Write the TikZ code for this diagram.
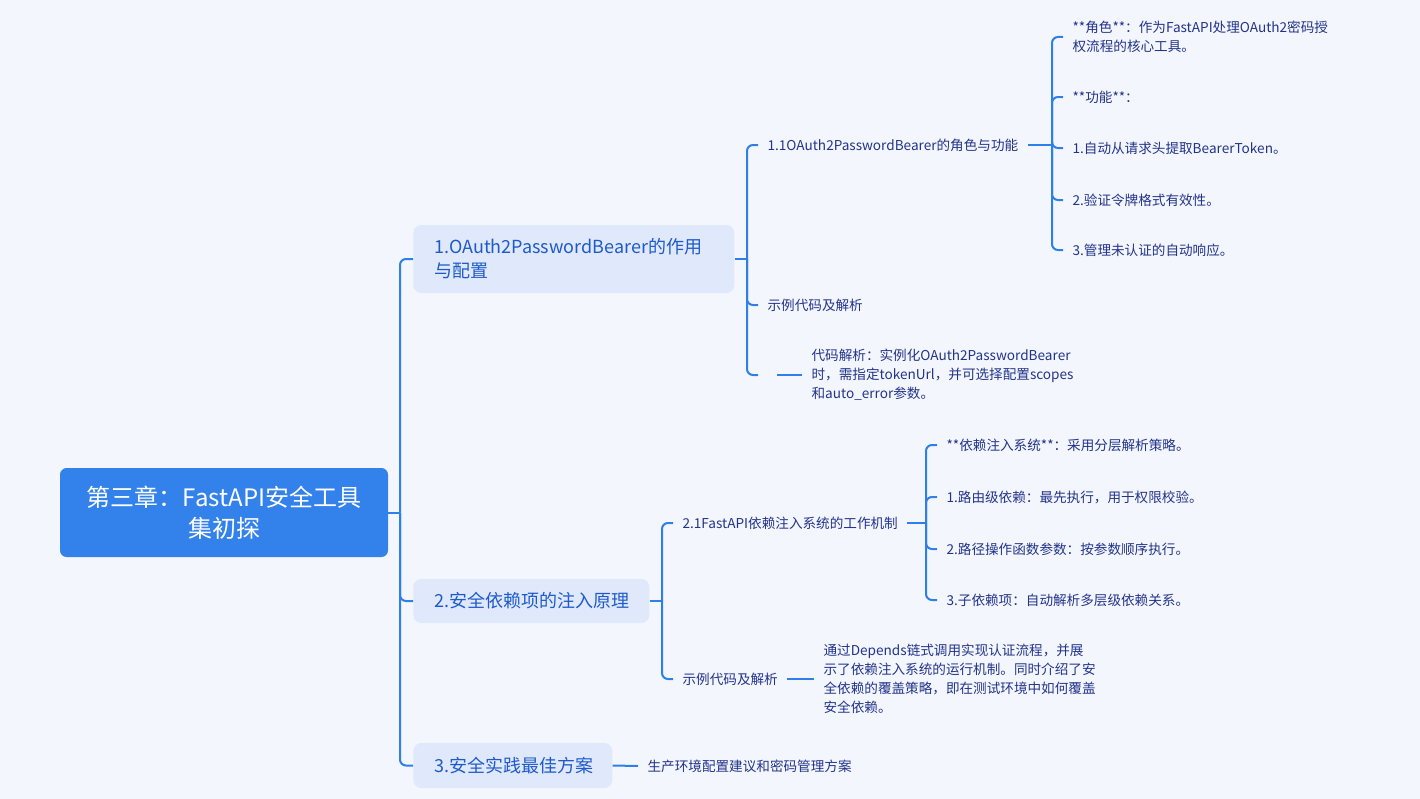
\documentclass[tikz,border=0pt]{standalone}
\usepackage{fontspec}
\setmainfont{Noto Sans CJK SC}
\definecolor{bgc}{HTML}{F4F6FD}
\definecolor{rootc}{HTML}{3381EA}
\definecolor{boxc}{HTML}{E0E8FC}
\definecolor{linec}{HTML}{2F7FEA}
\definecolor{l1c}{HTML}{1E5BC9}
\definecolor{leafc}{HTML}{22348A}
\begin{document}
\begin{tikzpicture}[x=0.75pt,y=-0.75pt,
  conn/.style={draw=linec,line width=1.5pt,rounded corners=4.5pt},
  leaf/.style={anchor=west,text=leafc,font=\fontsize{10.2pt}{14.25pt}\selectfont,align=left,inner xsep=7pt,inner ysep=1pt},
  l1box/.style={anchor=west,fill=boxc,rounded corners=6pt,inner sep=0pt},
  l1text/.style={anchor=west,text=l1c,font=\fontsize{13.5pt}{18pt}\selectfont,align=left,inner sep=0pt}]
\fill[bgc] (0,0) rectangle (1420,799);
\useasboundingbox (0,0) rectangle (1420,799);

% root
\node[fill=rootc,rounded corners=5pt,minimum width=246pt,minimum height=66.75pt,text=white,
  font=\fontsize{18pt}{23.25pt}\selectfont,align=center,inner sep=0pt] (root) at (224,512.5)
  {第三章：FastAPI安全工具\\集初探};

% level 1
\node[l1box,minimum width=240.75pt,minimum height=51pt] (b1) at (413,259) {};
\node[l1text] (b1t) at (434,259) {1.OAuth2PasswordBearer的作用\\与配置};
\node[l1box,minimum width=177pt,minimum height=33pt] (b2) at (413,601) {};
\node[l1text] (b2t) at (434,601) {2.安全依赖项的注入原理};
\node[l1box,minimum width=149.25pt,minimum height=33.75pt] (b3) at (413,765.5) {};
\node[l1text] (b3t) at (434,765.5) {3.安全实践最佳方案};

% branch 1
\node[leaf] (n11) at (758,145) {1.1OAuth2PasswordBearer的角色与功能};
\node[leaf] (n1ex) at (758,305) {示例代码及解析};
\node[leaf,minimum width=13.5pt] (n1e) at (758,375) {};
\node[leaf] (n1code) at (802,375) {代码解析：实例化OAuth2PasswordBearer\\时，需指定tokenUrl，并可选择配置scopes\\和auto\_error参数。};

\node[leaf] (r1) at (1063,37) {**角色**：作为FastAPI处理OAuth2密码授\\权流程的核心工具。};
\node[leaf] (r2) at (1063,97) {**功能**：};
\node[leaf] (r3) at (1063,148) {1.自动从请求头提取BearerToken。};
\node[leaf] (r4) at (1063,200) {2.验证令牌格式有效性。};
\node[leaf] (r5) at (1063,250) {3.管理未认证的自动响应。};

% branch 2
\node[leaf] (n21) at (673,523) {2.1FastAPI依赖注入系统的工作机制};
\node[leaf] (n2ex) at (673,679) {示例代码及解析};
\node[leaf] (n2code) at (814,679) {通过Depends链式调用实现认证流程，并展\\示了依赖注入系统的运行机制。同时介绍了安\\全依赖的覆盖策略，即在测试环境中如何覆盖\\安全依赖。};

\node[leaf] (s1) at (937,445) {**依赖注入系统**：采用分层解析策略。};
\node[leaf] (s2) at (937,497) {1.路由级依赖：最先执行，用于权限校验。};
\node[leaf] (s3) at (937,549) {2.路径操作函数参数：按参数顺序执行。};
\node[leaf] (s4) at (937,600) {3.子依赖项：自动解析多层级依赖关系。};

% branch 3
\node[leaf] (n3) at (638,766) {生产环境配置建议和密码管理方案};

% connectors root
\coordinate (j0) at (400,512.5);
\draw[conn] (root.east) -- (j0);
\draw[conn] (j0) |- (b1.west);
\draw[conn] (j0) |- (b2.west);
\draw[conn] (j0) |- (b3.west);

% connectors b1
\coordinate (j1) at (747,259);
\draw[conn] (b1.east) -- (j1);
\draw[conn] (j1) |- (n11.west);
\draw[conn] (j1) |- (n1ex.west);
\draw[conn] (j1) |- (n1e.west);
\draw[conn] (n1e.east) -- (n1code.west);

\coordinate (j11) at (1052,145);
\draw[conn] (n11.east) -- (j11);
\draw[conn] (j11) |- (r1.west);
\draw[conn] (j11) |- (r2.west);
\draw[conn] (j11) |- (r3.west);
\draw[conn] (j11) |- (r4.west);
\draw[conn] (j11) |- (r5.west);

% connectors b2
\coordinate (j2) at (662,601);
\draw[conn] (b2.east) -- (j2);
\draw[conn] (j2) |- (n21.west);
\draw[conn] (j2) |- (n2ex.west);
\draw[conn] (n2ex.east) -- (n2code.west);

\coordinate (j21) at (926,523);
\draw[conn] (n21.east) -- (j21);
\draw[conn] (j21) |- (s1.west);
\draw[conn] (j21) |- (s2.west);
\draw[conn] (j21) |- (s3.west);
\draw[conn] (j21) |- (s4.west);

% connectors b3
\draw[conn] (b3.east) -- (n3.west);
\end{tikzpicture}
\end{document}
